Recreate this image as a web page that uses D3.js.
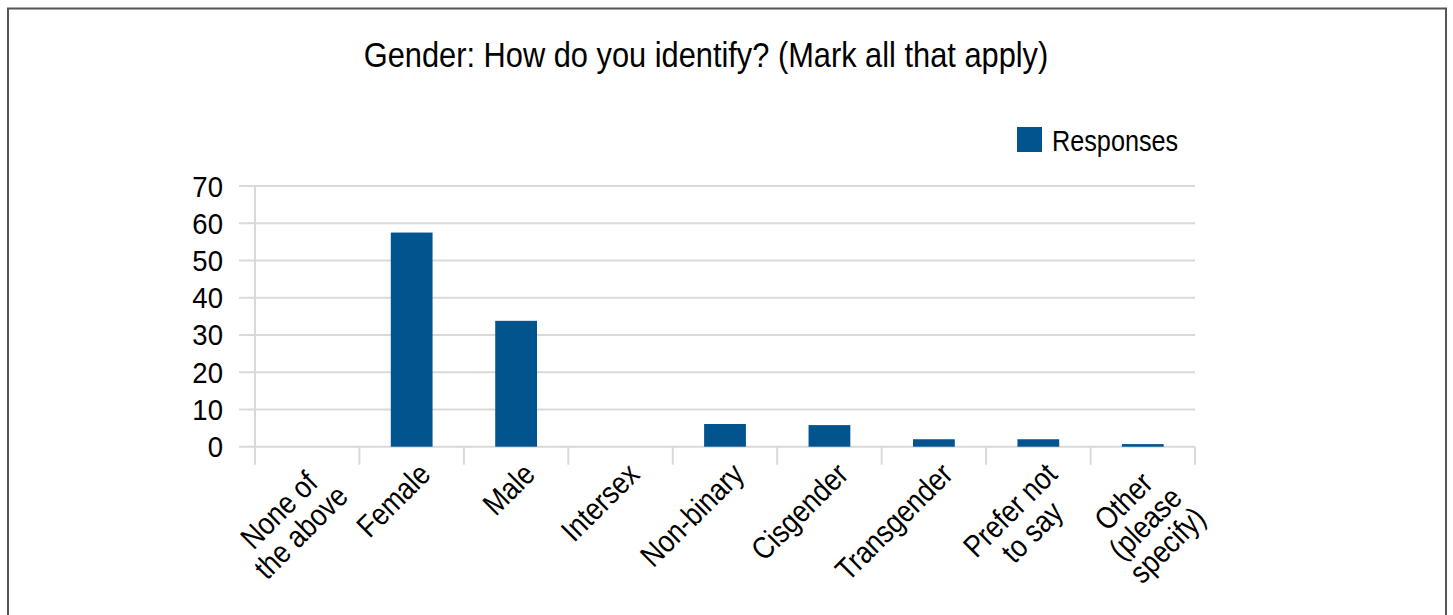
<!DOCTYPE html>
<html>
<head>
<meta charset="utf-8">
<script src="https://cdn.jsdelivr.net/npm/d3@7"></script>
<style>
  html, body { margin: 0; padding: 0; background: #fff; }
  svg { display: block; }
  text { font-family: "Liberation Sans Narrow", "Arial Narrow", "Liberation Sans", sans-serif; fill: #000; }
</style>
</head>
<body>
<svg id="chart" width="1453" height="615"></svg>
<script>
// Survey question and answer options
const title = "Gender: How do you identify? (Mark all that apply)";
const categories = [
  ["None of", "the above"],
  ["Female"],
  ["Male"],
  ["Intersex"],
  ["Non-binary"],
  ["Cisgender"],
  ["Transgender"],
  ["Prefer not", "to say"],
  ["Other", "(please", "specify)"]
];
const responses = [0, 57.5, 33.8, 0, 6.1, 5.8, 2.0, 2.0, 0.7];
const yTicks = [0, 10, 20, 30, 40, 50, 60, 70];
const seriesName = "Responses";

const plot = { left: 255, right: 1195, top: 186, bottom: 446.7 };
const barColor = "#02548f";
const gridColor = "#d9d9d9";
const narrow = 0.86; // horizontal squeeze giving a condensed face

const svg = d3.select("#chart");

// Frame around the chart
svg.append("rect")
  .attr("x", 8).attr("y", 8.5)
  .attr("width", 1438).attr("height", 620)
  .attr("fill", "none").attr("stroke", "#555").attr("stroke-width", 2);

const keys = categories.map(c => c.join(" "));
const x = d3.scaleBand().domain(keys).range([plot.left, plot.right]).paddingInner(0.6).paddingOuter(0.3);
const y = d3.scaleLinear().domain([0, 70]).range([plot.bottom, plot.top]);

// Horizontal gridlines with short outward ticks
svg.append("g").selectAll("line").data(yTicks).join("line")
  .attr("x1", plot.left - 16).attr("x2", plot.right)
  .attr("y1", d => y(d)).attr("y2", d => y(d))
  .attr("stroke", gridColor).attr("stroke-width", 2);

// Y axis line
svg.append("line")
  .attr("x1", plot.left).attr("x2", plot.left)
  .attr("y1", plot.top).attr("y2", plot.bottom + 18)
  .attr("stroke", gridColor).attr("stroke-width", 2);

// Category separators below the baseline
const step = (plot.right - plot.left) / keys.length;
const bounds = d3.range(1, keys.length + 1).map(i => plot.left + i * step);
svg.append("g").selectAll("line").data(bounds).join("line")
  .attr("x1", d => d).attr("x2", d => d)
  .attr("y1", plot.bottom).attr("y2", plot.bottom + 18)
  .attr("stroke", gridColor).attr("stroke-width", 2);

// Y tick labels
svg.append("g").selectAll("text").data(yTicks).join("text")
  .attr("transform", d => `translate(223,${y(d) + 10.5}) scale(0.95,1)`)
  .attr("text-anchor", "end")
  .attr("font-size", 29)
  .text(d => d);

// Bars
svg.append("g").selectAll("rect").data(responses).join("rect")
  .attr("x", (d, i) => x(keys[i]))
  .attr("width", x.bandwidth())
  .attr("y", d => y(d))
  .attr("height", d => y(0) - y(d))
  .attr("fill", barColor);

// Rotated category labels, lines centred within each block
const lineH = 31;
const labels = svg.append("g").selectAll("g").data(categories).join("g")
  .attr("transform", (d, i) => {
    const cx = x(keys[i]) + x.bandwidth() / 2;
    return `translate(${cx + 5},${plot.bottom + 14}) rotate(-45) scale(${narrow},1)`;
  });
labels.each(function (lines) {
  const g = d3.select(this);
  const ts = lines.map((ln, j) => g.append("text")
    .attr("font-size", 31)
    .attr("y", 22 + j * lineH)
    .attr("text-anchor", "middle")
    .text(ln));
  const w = d3.max(ts, t => t.node().getComputedTextLength());
  ts.forEach(t => t.attr("x", -w / 2));
});

// Title
svg.append("text")
  .attr("transform", `translate(706,67) scale(0.88,1)`)
  .attr("text-anchor", "middle")
  .attr("font-size", 35)
  .text(title);

// Legend
svg.append("rect")
  .attr("x", 1017).attr("y", 127).attr("width", 25).attr("height", 25)
  .attr("fill", barColor);
svg.append("text")
  .attr("transform", `translate(1052,151) scale(0.87,1)`)
  .attr("font-size", 29)
  .text(seriesName);
</script>
</body>
</html>
